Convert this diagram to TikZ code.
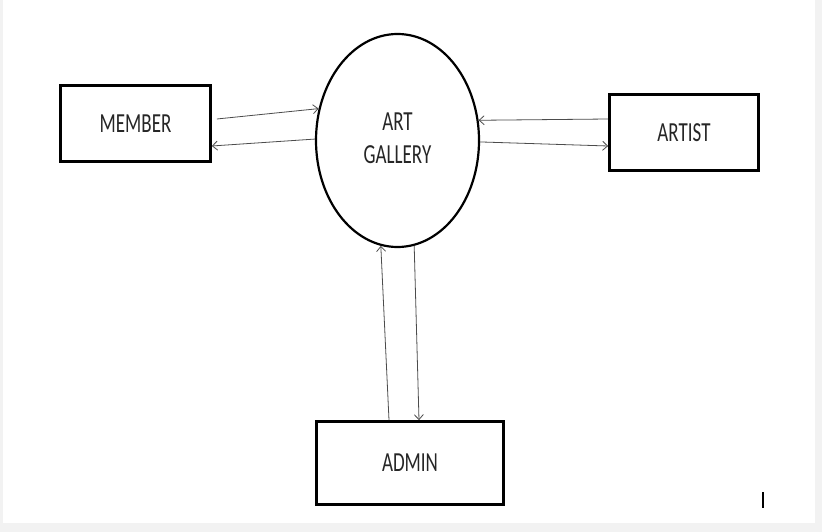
\documentclass[tikz,border=0pt]{standalone}
\usepackage{graphicx}
\usepackage{fontspec}
\setmainfont{Carlito}
\usetikzlibrary{arrows.meta, shapes.geometric}

\tikzset{
  entity/.style={draw, rectangle, line width=2.6pt, inner sep=0pt, text=black!85, font=\fontsize{19}{22.8}\selectfont},
  process/.style={draw, ellipse, line width=2.2pt, inner sep=0pt, minimum width=163pt, minimum height=213pt, text=black!85, font=\fontsize{19}{22.8}\selectfont},
  flow/.style={line width=0.8pt, draw=black!70, -{Straight Barb[length=5pt,width=9pt]}}
}
\newcommand{\tall}[1]{\scalebox{1}[1.45]{#1}}

\begin{document}
\begin{tikzpicture}[x=1pt,y=-1pt]
\useasboundingbox (0,0) rectangle (822,532);
% Draw the page frame
\fill[black!5] (0,0) rectangle (822,532);
\fill[white] (2.5,0) rectangle (815,523);
% Draw the entities and the process
\node[entity, minimum width=150pt, minimum height=76pt] (member) at (135.5,123.5) {\tall{MEMBER}};
\node[entity, minimum width=149pt, minimum height=76pt] (artist) at (684,132.5) {\tall{ARTIST}};
\node[entity, minimum width=187pt, minimum height=83pt] (admin) at (410,463) {\tall{ADMIN}};
\node[process] (gallery) at (397.5,140.5) {\tall{\begin{tabular}{@{}c@{}}ART\\GALLERY\end{tabular}}};
% Draw the flows between member and gallery
\draw[flow] ([xshift=5pt,yshift=4.5pt]member.east) -- (gallery.158);
\draw[flow] (gallery.179) -- ([yshift=-22.5pt]member.east);
% Draw the flows between artist and gallery
\draw[flow] ([yshift=13.5pt]artist.west) -- (gallery.14.5);
\draw[flow] (gallery.359) -- ([yshift=-13.5pt]artist.west);
% Draw the flows between admin and gallery
\draw[flow] ([xshift=-21pt]admin.north) -- (gallery.261);
\draw[flow] (gallery.279) -- ([xshift=9pt]admin.north);
% Draw the text cursor
\coordinate (cursor) at (763,500);
\draw[line width=1.6pt] ([yshift=8pt]cursor) -- ([yshift=-8pt]cursor);
\end{tikzpicture}
\end{document}
